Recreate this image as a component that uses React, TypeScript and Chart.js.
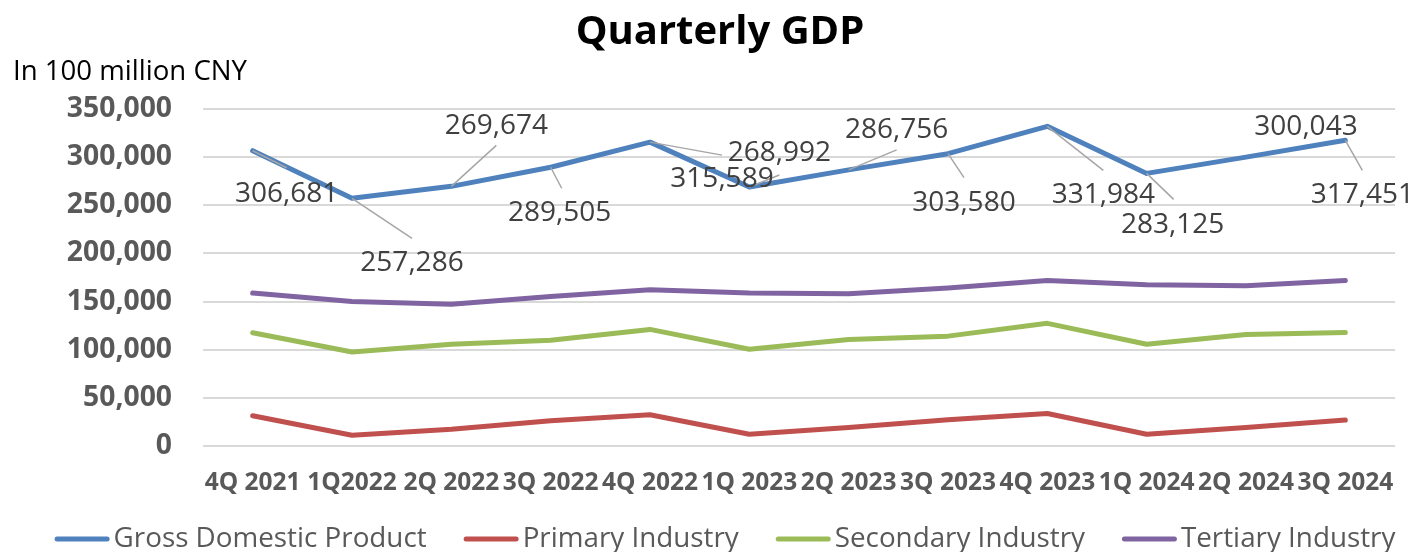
import React, { useEffect, useRef } from "react";
import { Chart, registerables } from "chart.js";

Chart.register(...registerables);

const categories = [
  "4Q 2021", "1Q2022", "2Q 2022", "3Q 2022", "4Q 2022", "1Q 2023",
  "2Q 2023", "3Q 2023", "4Q 2023", "1Q 2024", "2Q 2024", "3Q 2024",
];
const gdp = [306681, 257286, 269674, 289505, 315589, 268992, 286756, 303580, 331984, 283125, 300043, 317451];
const primary = [31400, 11200, 17400, 26200, 32500, 12200, 19200, 27200, 33800, 12200, 19200, 26900];
const secondary = [117600, 97700, 105700, 109900, 121100, 100500, 110600, 114100, 127400, 105700, 115800, 117900];
const tertiary = [158800, 150000, 147200, 155300, 162200, 158800, 158100, 164000, 172000, 167500, 166400, 172000];
const seriesNames = ["Gross Domestic Product", "Primary Industry", "Secondary Industry", "Tertiary Industry"];
const yTicks = [0, 50000, 100000, 150000, 200000, 250000, 300000, 350000];
const chartTitle = "Quarterly GDP";
const unitLabel = "In 100 million CNY";

// label placement for GDP data labels: [labelDx, labelDy, leaderDx, leaderDy] (pixels, relative to point)
const gdpLabelLayout: (number | null)[][] = [
  [34, 43, 34, 17],
  [60, 65, 60, 40],
  [45, -60, 45, -41],
  [9, 46, 11, 21],
  [72, 37, 72, 13],
  [30, -34, 30, -12],
  [48, -40, 48, -20],
  [16, 49, 16, 24],
  [56, 69, 56, 44],
  [26, 52, 27, 26],
  [60, -30, null, null],
  [17, 55, 17, 30],
];

const FONT = "'Open Sans', sans-serif";

const gdpLabelPlugin = {
  id: "gdpLabels",
  afterDatasetsDraw(chart: any) {
    const meta = chart.getDatasetMeta(0);
    const ctx = chart.ctx;
    ctx.save();
    ctx.strokeStyle = "#A6A6A6";
    ctx.lineWidth = 1.5;
    meta.data.forEach((pt: any, i: number) => {
      const lay = gdpLabelLayout[i];
      if (lay[2] !== null && lay[3] !== null) {
        ctx.beginPath();
        ctx.moveTo(pt.x, pt.y);
        ctx.lineTo(pt.x + (lay[2] as number), pt.y + (lay[3] as number));
        ctx.stroke();
      }
    });
    ctx.font = `28px ${FONT}`;
    ctx.fillStyle = "#404040";
    ctx.textAlign = "center";
    ctx.textBaseline = "middle";
    meta.data.forEach((pt: any, i: number) => {
      const lay = gdpLabelLayout[i];
      ctx.fillText(gdp[i].toLocaleString("en-US"), pt.x + (lay[0] as number), pt.y + (lay[1] as number));
    });
    ctx.restore();
  },
};

const unitLabelPlugin = {
  id: "unitLabel",
  afterDraw(chart: any) {
    const ctx = chart.ctx;
    ctx.save();
    ctx.font = `27.6px ${FONT}`;
    ctx.fillStyle = "#000000";
    ctx.textAlign = "left";
    ctx.textBaseline = "middle";
    ctx.fillText(unitLabel, 13, 72);
    ctx.restore();
  },
};

// custom bottom legend (Excel style: long rounded line marker + text)
const legendPlugin = {
  id: "excelLegend",
  afterDraw(chart: any) {
    const ctx = chart.ctx;
    const markerLen = 50;
    const cap = 2.5;
    const textGap = 4;
    const itemGap = 37;
    const centerX = 725;
    const y = 539;
    ctx.save();
    ctx.font = `27.8px ${FONT}`;
    const items = chart.data.datasets.map((ds: any) => {
      const tw = ctx.measureText(ds.label).width;
      return { ds, tw, w: cap + markerLen + cap + textGap + tw };
    });
    const total = items.reduce((a: number, it: any) => a + it.w, 0) + itemGap * (items.length - 1);
    let x = centerX - total / 2;
    items.forEach((it: any) => {
      ctx.strokeStyle = it.ds.borderColor;
      ctx.lineWidth = 5;
      ctx.lineCap = "round";
      ctx.beginPath();
      ctx.moveTo(x + cap, y);
      ctx.lineTo(x + cap + markerLen, y);
      ctx.stroke();
      ctx.fillStyle = "#595959";
      ctx.textAlign = "left";
      ctx.textBaseline = "middle";
      ctx.fillText(it.ds.label, x + cap + markerLen + cap + textGap, y);
      x += it.w + itemGap;
    });
    ctx.restore();
  },
};

export default function App() {
  const ref = useRef<HTMLCanvasElement>(null);
  useEffect(() => {
    document.body.style.margin = "0";
    const colors = ["#4F81BD", "#C0504D", "#9BBB59", "#8064A2"];
    const values = [gdp, primary, secondary, tertiary];
    const chart = new Chart(ref.current as HTMLCanvasElement, {
      type: "line",
      data: {
        labels: categories,
        datasets: values.map((v, i) => ({
          label: seriesNames[i],
          data: v,
          borderColor: colors[i],
          backgroundColor: colors[i],
          borderWidth: 5,
          borderCapStyle: "round",
          borderJoinStyle: "round",
          pointRadius: 0,
          tension: 0,
        })),
      },
      options: {
        responsive: false,
        animation: false,
        layout: { padding: { left: 45, right: 23, top: 0, bottom: 0 } },
        plugins: {
          tooltip: { enabled: false },
          legend: { display: false },
          title: {
            display: true,
            text: chartTitle,
            color: "#000000",
            font: { family: FONT, size: 40, weight: "bold" },
            padding: { top: 9, bottom: 52 },
          },
        },
        scales: {
          x: {
            offset: true,
            grid: { display: false, drawTicks: false, offset: true },
            border: { display: false },
            ticks: {
              autoSkip: false,
              maxRotation: 0,
              minRotation: 0,
              padding: 22,
              color: "#595959",
              font: { family: FONT, size: 24.5, weight: "bold" },
            },
            afterFit: (s: any) => {
              s.height = 106;
            },
          },
          y: {
            min: 0,
            max: 350000,
            grid: { color: "#D9D9D9", lineWidth: 2, drawTicks: false },
            border: { display: false },
            afterBuildTicks: (s: any) => {
              s.ticks = yTicks.map((v) => ({ value: v }));
            },
            ticks: {
              padding: 31,
              color: "#595959",
              font: { family: FONT, size: 28.3, weight: "bold" },
              callback: (v: any) => Number(v).toLocaleString("en-US"),
            },
            afterFit: (s: any) => {
              s.width = 158;
            },
          },
        },
      },
      plugins: [gdpLabelPlugin, unitLabelPlugin, legendPlugin],
    } as any);
    return () => chart.destroy();
  }, []);
  return (
    <div style={{ width: 1418, height: 552 }}>
      <canvas ref={ref} width={1418} height={552} style={{ display: "block" }} />
    </div>
  );
}
